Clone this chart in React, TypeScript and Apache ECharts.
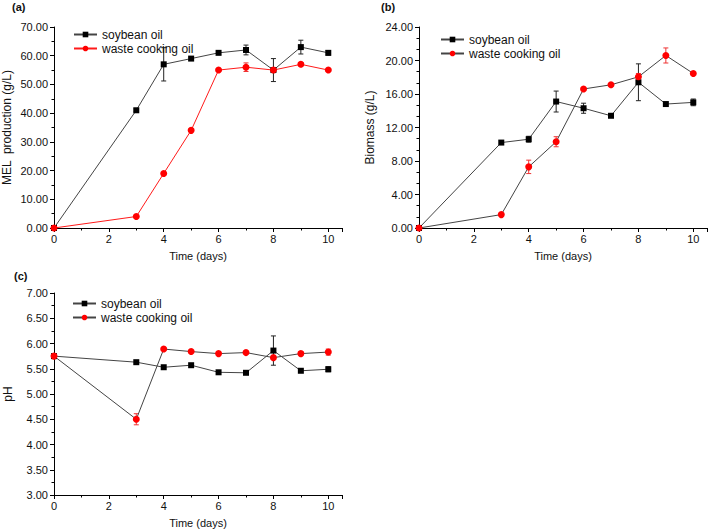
import React, { useEffect, useRef } from "react";
import * as echarts from "echarts";

const days = [0, 3, 4, 5, 6, 7, 8, 9, 10];

const melSoy = [0, 41, 57, 59, 61, 62, 55, 63, 61];
const melSoyErr = [0, 0.5, 5.8, 0.5, 0.5, 1.7, 4, 2.4, 0.8];
const melWaste = [0, 4, 19, 34, 55, 56, 55, 57, 55];
const melWasteErr = [0, 0, 0, 0, 0, 1.5, 0, 0.6, 0];

const bioSoy = [0, 10.2, 10.6, 15.1, 14.3, 13.4, 17.4, 14.8, 15.0];
const bioSoyErr = [0, 0, 0.35, 1.25, 0.6, 0.2, 2.2, 0, 0.4];
const bioWaste = [0, 1.6, 7.3, 10.3, 16.6, 17.1, 18.05, 20.6, 18.45];
const bioWasteErr = [0, 0, 0.8, 0.6, 0, 0, 0.4, 0.9, 0];

const phSoy = [5.75, 5.63, 5.53, 5.57, 5.43, 5.42, 5.86, 5.46, 5.49];
const phSoyErr = [0, 0, 0, 0, 0, 0, 0.29, 0, 0.05];
const phWaste = [5.75, 4.5, 5.89, 5.84, 5.8, 5.82, 5.72, 5.8, 5.83];
const phWasteErr = [0, 0.11, 0, 0, 0, 0, 0, 0.04, 0.06];

const panelLabels = ["(a)", "(b)", "(c)"];
const yNames = ["MEL  production (g/L)", "Biomass (g/L)", "pH"];
const xName = "Time (days)";
const seriesNames = ["soybean oil", "waste cooking oil"];

const FONT = "Liberation Sans, Arial, sans-serif";

export default function App() {
  const ref = useRef<HTMLDivElement>(null);
  useEffect(() => {
    if (!ref.current) return;
    const chart = echarts.init(ref.current, null, { renderer: "svg" });

    const grids = [
      { left: 54, top: 27, width: 288, height: 201 },
      { left: 419, top: 27, width: 288, height: 201 },
      { left: 54, top: 293, width: 288, height: 202 },
    ];
    const yRanges = [
      { min: 0, max: 70, interval: 10, minor: 2 },
      { min: 0, max: 24, interval: 4, minor: 3 },
      { min: 3, max: 7, interval: 0.5, minor: 2 },
    ];
    const yGaps = [41, 43, 40];

    const xAxes = grids.map((_, i) => ({
      type: "value",
      gridIndex: i,
      min: 0,
      max: 10.5,
      interval: 2,
      name: xName,
      nameLocation: "middle",
      nameGap: 22,
      nameTextStyle: { fontFamily: FONT, fontSize: 11, color: "#111" },
      axisLine: { lineStyle: { color: "#000", width: 1 } },
      axisTick: { show: true, inside: false, length: 4, lineStyle: { color: "#000" } },
      minorTick: { show: true, splitNumber: 2, length: 2.5, lineStyle: { color: "#000" } },
      axisLabel: {
        fontFamily: FONT,
        fontSize: 11,
        color: "#111",
        margin: 5,
        showMaxLabel: false,
      },
      splitLine: { show: false },
    }));

    const yAxes = grids.map((_, i) => ({
      type: "value",
      gridIndex: i,
      min: yRanges[i].min,
      max: yRanges[i].max,
      interval: yRanges[i].interval,
      name: yNames[i],
      nameLocation: "middle",
      nameGap: yGaps[i],
      nameTextStyle: { fontFamily: FONT, fontSize: 12, color: "#111" },
      axisLine: { show: true, lineStyle: { color: "#000", width: 1 } },
      axisTick: { show: true, inside: false, length: 4, lineStyle: { color: "#000" } },
      minorTick: { show: true, splitNumber: yRanges[i].minor, length: 2.5, lineStyle: { color: "#000" } },
      axisLabel: {
        fontFamily: FONT,
        fontSize: 11,
        color: "#111",
        margin: 6,
        formatter: (v: number) => v.toFixed(2),
      },
      splitLine: { show: false },
    }));

    const errSeries = (
      gi: number,
      vals: number[],
      errs: number[],
      color: string
    ) => ({
      type: "custom",
      xAxisIndex: gi,
      yAxisIndex: gi,
      z: 1,
      silent: true,
      clip: false,
      encode: { x: 0, y: 1 },
      data: days.map((d, k) => [d, vals[k], errs[k]]),
      renderItem: (params: any, api: any) => {
        const x = api.value(0);
        const y = api.value(1);
        const e = api.value(2);
        if (!e) return null;
        const t = api.coord([x, y + e]);
        const b = api.coord([x, y - e]);
        const w = 2.5;
        const st = { stroke: color, lineWidth: 1 };
        return {
          type: "group",
          children: [
            { type: "line", shape: { x1: t[0], y1: t[1], x2: b[0], y2: b[1] }, style: st },
            { type: "line", shape: { x1: t[0] - w, y1: t[1], x2: t[0] + w, y2: t[1] }, style: st },
            { type: "line", shape: { x1: b[0] - w, y1: b[1], x2: b[0] + w, y2: b[1] }, style: st },
          ],
        };
      },
    });

    const lineSeries = (
      gi: number,
      name: string,
      vals: number[],
      symbol: string,
      size: number,
      markColor: string,
      lineColor: string
    ) => ({
      type: "line",
      name,
      xAxisIndex: gi,
      yAxisIndex: gi,
      z: 3,
      symbol,
      symbolSize: size,
      showAllSymbol: true,
      itemStyle: { color: markColor, borderWidth: 0 },
      lineStyle: { color: lineColor, width: 1 },
      data: days.map((d, k) => [d, vals[k]]),
    });

    const tag = ["|a", "|b", "|c"];
    const data = [
      [melSoy, melSoyErr, melWaste, melWasteErr, "#ff1a1a"],
      [bioSoy, bioSoyErr, bioWaste, bioWasteErr, "#444"],
      [phSoy, phSoyErr, phWaste, phWasteErr, "#444"],
    ] as any[];

    const series: any[] = [];
    data.forEach((d, i) => {
      series.push(errSeries(i, d[0], d[1], "#222"));
      series.push(errSeries(i, d[2], d[3], "#ee3333"));
      series.push(lineSeries(i, seriesNames[0] + tag[i], d[0], "rect", 6, "#000", "#444"));
      series.push(lineSeries(i, seriesNames[1] + tag[i], d[2], "circle", 7, "#ff0000", d[4]));
    });

    const legendPos = [
      { left: 73, top: 28 },
      { left: 440, top: 33 },
      { left: 72, top: 297 },
    ];
    const legends = legendPos.map((p, i) => ({
      orient: "vertical",
      left: p.left,
      top: p.top,
      padding: 0,
      itemWidth: 23,
      itemHeight: 7,
      itemGap: 1,
      selectedMode: false,
      data: seriesNames.map((n) => n + tag[i]),
      formatter: (n: string) => n.split("|")[0],
      textStyle: {
        fontFamily: FONT,
        fontSize: 12,
        lineHeight: 13,
        color: "#111",
      },
    }));

    const titlePos = [
      { left: 12, top: 1 },
      { left: 381, top: 1 },
      { left: 14, top: 270 },
    ];
    const titles = titlePos.map((p, i) => ({
      text: panelLabels[i],
      left: p.left,
      top: p.top,
      padding: 0,
      textStyle: { fontFamily: FONT, fontSize: 11, fontWeight: "bold", color: "#111" },
    }));

    chart.setOption({
      animation: false,
      backgroundColor: "#fff",
      title: titles,
      legend: legends,
      grid: grids,
      xAxis: xAxes,
      yAxis: yAxes,
      series,
    });
    return () => chart.dispose();
  }, []);
  return (
    <div
      ref={ref}
      style={{ position: "fixed", left: 0, top: 0, width: 709, height: 529 }}
    />
  );
}
